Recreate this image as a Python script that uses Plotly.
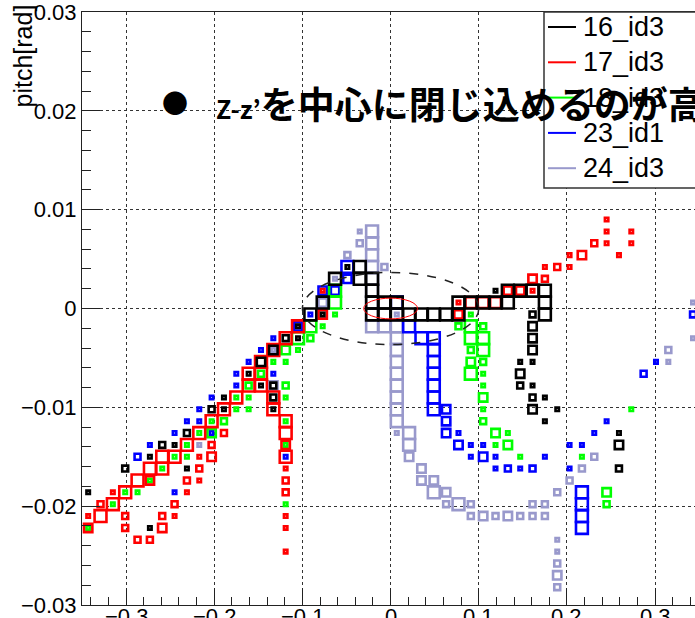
import numpy as np
import plotly.graph_objects as go

# ---------------- data: 2D histogram cells (x bin, y bin, content) ----------------
# binning of the TH2: 50 x 50 bins over [-0.35,0.35] x [-0.03,0.03]
NX, XLO, XHI = 50, -0.35, 0.35
NY, YLO, YHI = 50, -0.03, 0.03

series_names = ["16_id3", "17_id3", "18_id3", "23_id1", "24_id3"]
series_colors = ["#000000", "#ff0000", "#00ff00", "#0000ff", "#9999cc"]

x_tick_vals = [-0.3, -0.2, -0.1, 0.0, 0.1, 0.2, 0.3]
x_tick_text = ["−0.3", "−0.2", "−0.1", "0", "0.1", "0.2", "0.3"]

cells_16 = [
    (0, 9, 1), (3, 11, 3), (5, 6, 1), (5, 12, 1), (6, 13, 3), (7, 13, 1), (8, 11, 1), (8, 14, 3),
    (10, 16, 3), (11, 16, 1), (11, 17, 1),
    (13, 19, 1), (14, 18, 1), (15, 18, 3), (14, 20, 6), (15, 21, 6), (16, 22, 3), (17, 22, 1),
    (17, 23, 1), (15, 17, 3), (15, 16, 1),
    (18, 24, 12), (19, 24, 1), (19, 25, 12), (20, 27, 12), (21, 28, 1), (22, 28, 12), (22, 27, 12),
    (23, 27, 12), (23, 26, 12), (23, 25, 12), (23, 24, 12), (24, 25, 12), (25, 25, 12), (24, 24, 12),
    (25, 24, 12), (26, 24, 12), (27, 24, 12), (28, 24, 12), (29, 24, 12), (30, 24, 12),
    (30, 25, 12), (31, 25, 12), (32, 25, 12), (33, 25, 12), (34, 25, 12), (33, 26, 1), (34, 26, 12),
    (35, 26, 12), (36, 26, 12), (37, 26, 12), (37, 25, 12), (37, 24, 12), (36, 24, 3),
    (36, 23, 6), (36, 22, 6), (36, 21, 6), (35, 20, 1), (36, 20, 1), (35, 19, 6), (35, 18, 3),
    (36, 18, 1), (36, 17, 3), (37, 17, 1), (36, 16, 6), (38, 16, 1), (37, 15, 1),
    (43, 14, 1), (43, 13, 6), (43, 11, 3),
]

cells_17 = [
    (0, 6, 6), (0, 7, 1), (1, 7, 12), (1, 8, 3), (2, 8, 12), (2, 9, 1), (3, 9, 12), (3, 7, 3),
    (3, 6, 3), (4, 10, 12), (4, 5, 3), (5, 5, 3), (5, 10, 6), (5, 11, 12), (6, 11, 12), (6, 12, 12),
    (6, 7, 3), (6, 6, 6), (7, 12, 12), (7, 8, 3), (7, 7, 1), (8, 13, 12), (8, 10, 3), (8, 9, 1),
    (9, 14, 12), (9, 12, 1), (9, 11, 3), (9, 10, 1), (10, 15, 12), (10, 13, 3), (10, 12, 6),
    (11, 16, 12), (11, 14, 3), (12, 17, 12),
    (13, 18, 12), (13, 19, 12), (14, 18, 12), (14, 19, 12), (14, 20, 12), (15, 21, 12), (16, 22, 12),
    (17, 23, 12), (19, 24, 6), (19, 26, 1),
    (15, 17, 12), (15, 16, 12), (16, 15, 12), (16, 14, 12), (16, 13, 6), (16, 12, 12), (16, 11, 1),
    (16, 10, 3), (16, 9, 3), (16, 7, 1), (16, 6, 1), (16, 4, 1),
    (30, 25, 1), (31, 25, 10), (32, 25, 10), (33, 25, 10), (30, 24, 6), (34, 26, 6), (35, 26, 6),
    (36, 26, 1), (36, 27, 6), (37, 27, 3), (37, 28, 1), (38, 28, 3), (39, 28, 1), (39, 29, 1),
    (40, 29, 6), (41, 30, 3), (42, 30, 1), (42, 31, 1), (42, 32, 1), (43, 29, 1), (44, 30, 1),
    (44, 31, 1),
]

cells_18 = [
    (0, 6, 1), (2, 8, 1), (3, 9, 1), (4, 9, 1), (5, 10, 1), (6, 11, 1), (7, 12, 1), (8, 12, 1),
    (8, 13, 1), (9, 14, 1), (10, 14, 6), (10, 15, 1), (11, 15, 3), (12, 16, 1), (12, 17, 1),
    (13, 17, 1), (13, 16, 1), (16, 17, 1), (16, 15, 1), (16, 13, 1), (16, 8, 1), (13, 18, 3),
    (14, 19, 3), (15, 20, 1), (16, 20, 1), (16, 21, 6), (17, 21, 1), (16, 18, 3),
    (17, 22, 12), (18, 22, 3), (18, 23, 12), (19, 23, 1), (20, 24, 1), (20, 25, 12), (20, 26, 12),
    (30, 23, 3), (31, 24, 1), (31, 23, 12), (31, 22, 12), (31, 21, 3), (31, 20, 6), (31, 19, 12),
    (32, 23, 3), (32, 22, 12), (32, 21, 12), (32, 20, 3), (32, 19, 1), (32, 18, 1), (32, 17, 6),
    (32, 16, 1), (32, 15, 3), (33, 14, 6), (34, 14, 1), (33, 13, 1), (34, 13, 6), (35, 12, 1),
    (40, 12, 1), (42, 9, 6), (42, 8, 3), (44, 16, 1),
]

cells_23 = [
    (4, 12, 3), (5, 13, 1), (7, 9, 1), (7, 14, 1), (8, 15, 1), (9, 15, 1), (9, 16, 1), (10, 14, 1),
    (10, 17, 1),
    (12, 18, 1), (12, 19, 1), (13, 20, 1), (14, 21, 1), (15, 19, 1), (15, 22, 1), (16, 12, 1),
    (17, 23, 6), (18, 24, 1), (19, 26, 6), (20, 26, 6), (21, 27, 6), (21, 28, 12),
    (25, 25, 12), (26, 23, 12), (27, 22, 12), (28, 22, 12), (28, 21, 12), (28, 20, 12), (28, 19, 12),
    (28, 18, 12), (28, 17, 12), (28, 16, 12), (29, 16, 6), (29, 15, 6), (29, 14, 6),
    (30, 14, 1), (30, 13, 6), (31, 13, 1), (32, 13, 1), (31, 12, 1), (32, 12, 6), (33, 12, 1),
    (33, 11, 1), (34, 11, 3), (35, 11, 1), (36, 11, 3), (37, 12, 1),
    (39, 13, 1), (40, 13, 1), (39, 11, 1), (41, 14, 1), (42, 15, 1), (40, 9, 12), (40, 8, 12),
    (40, 7, 12), (40, 6, 12), (45, 19, 3), (46, 20, 1), (49, 24, 3),
]

cells_24 = [
    (9, 13, 1), (15, 21, 1), (15, 18, 6), (19, 25, 6), (20, 27, 1), (21, 29, 3), (22, 30, 3),
    (22, 31, 1),
    (23, 31, 12), (23, 30, 12), (23, 29, 12), (23, 28, 12), (23, 27, 12), (23, 26, 12), (23, 25, 12),
    (23, 24, 12), (23, 23, 12), (24, 23, 12), (24, 28, 3), (25, 24, 1),
    (25, 23, 12), (25, 22, 12), (25, 21, 12), (25, 20, 12), (25, 19, 12), (25, 18, 12), (25, 17, 12),
    (25, 16, 12), (25, 15, 12), (25, 14, 1),
    (26, 14, 12), (26, 13, 12), (26, 12, 6), (27, 11, 6), (27, 10, 6), (28, 10, 6), (28, 9, 12),
    (29, 9, 6), (29, 8, 3), (30, 8, 12), (31, 8, 3),
    (31, 7, 3), (32, 7, 6), (33, 7, 3), (34, 7, 6), (35, 7, 3), (36, 7, 3), (37, 7, 3), (36, 8, 3),
    (37, 8, 3), (38, 9, 3), (39, 10, 3), (40, 11, 3), (41, 12, 3),
    (38, 5, 1), (38, 4, 1), (38, 3, 3), (38, 2, 6), (38, 1, 3), (47, 20, 1), (47, 21, 3),
    (49, 22, 1), (49, 25, 1),
]

all_cells = [cells_16, cells_17, cells_18, cells_23, cells_24]

y_title = "pitch[rad]"
overlay_latin = "Z-z’"
overlay_jp = "を中心に閉じ込めるのが高"

# ---------------- layout geometry ----------------
W, H = 695, 618
ML, MR, MT, MB = 82, 0, 12, 13
PW, PH = W - ML - MR, H - MT - MB
PX_PER_X = 881.7
X_RANGE = [XLO, XLO + PW / PX_PER_X]
Y_RANGE = [YLO - 1e-9, YHI + 1e-9]

x_edges = np.linspace(XLO, XHI, NX + 1)
y_edges = np.linspace(YLO, YHI, NY + 1)
x_cent = 0.5 * (x_edges[:-1] + x_edges[1:])
y_cent = 0.5 * (y_edges[:-1] + y_edges[1:])
bin_px = (x_edges[1] - x_edges[0]) * PX_PER_X * 0.96

fig = go.Figure()

# draw order: last legend entry first
for idx in [4, 3, 2, 1, 0]:
    cells = all_cells[idx]
    cmax = 12.0
    xs = [x_cent[c[0]] for c in cells]
    ys = [y_cent[c[1]] for c in cells]
    sz = [bin_px * np.sqrt(c[2] / cmax) for c in cells]
    fig.add_trace(go.Scatter(
        x=xs, y=ys, mode="markers", name=series_names[idx], showlegend=False,
        hoverinfo="skip",
        marker=dict(symbol="square-open", size=sz, color=series_colors[idx], opacity=1,
                    line=dict(width=2.6, color=series_colors[idx])),
    ))

AXFONT = dict(family="Liberation Sans, Arial, sans-serif", size=22, color="black")

fig.update_layout(
    width=W, height=H,
    margin=dict(l=ML, r=MR, t=MT, b=MB, autoexpand=False),
    paper_bgcolor="white", plot_bgcolor="white",
    showlegend=False,
    xaxis=dict(range=X_RANGE, showgrid=True, gridcolor="#333", griddash="dot", gridwidth=1,
               zeroline=False, showline=True, linecolor="#222", linewidth=1, mirror=True,
               ticks="inside", ticklen=17, tickcolor="#222", tickwidth=1,
               tickvals=x_tick_vals, showticklabels=False,
               minor=dict(ticks="inside", ticklen=8, dtick=0.02, tickcolor="#222", showgrid=False)),
    yaxis=dict(range=Y_RANGE, showgrid=True, gridcolor="#333", griddash="dot", gridwidth=1,
               zeroline=False, showline=True, linecolor="#222", linewidth=1, mirror=False,
               ticks="inside", ticklen=18, tickcolor="#222", tickwidth=1,
               dtick=0.01, tick0=0, tickfont=AXFONT, ticklabeloverflow="allow",
               minor=dict(ticks="inside", ticklen=9, dtick=0.002, tickcolor="#222", showgrid=False)),
)

def px2paper_x(px):
    return (px - ML) / PW

def px2paper_y(py):
    return (H - MB - py) / PH

shapes = []
annotations = []

# x tick labels (cut by the bottom edge as in the reference)
for v, t in zip(x_tick_vals, x_tick_text):
    annotations.append(dict(text=t, xref="x", x=v, yref="paper", y=px2paper_y(602),
                            xanchor="center", yanchor="top", showarrow=False, font=AXFONT))

# ellipses (drawn over the boxes)
shapes.append(dict(type="circle", xref="x", yref="y", x0=-0.1, x1=0.1, y0=-0.00365, y1=0.00365,
                   line=dict(color="#222", width=1.5, dash="dash"), layer="above"))
shapes.append(dict(type="circle", xref="x", yref="y", x0=-0.0305, x1=0.0305, y0=-0.00105, y1=0.00105,
                   line=dict(color="#ff0000", width=1), layer="above"))

# legend box
shapes.append(dict(type="rect", xref="paper", yref="paper",
                   x0=px2paper_x(544), x1=px2paper_x(760), y0=px2paper_y(188), y1=px2paper_y(12),
                   line=dict(color="#333", width=1.5), fillcolor="white", layer="above"))
for i, (nm, col) in enumerate(zip(series_names, series_colors)):
    yy = px2paper_y(27 + 35.3 * i)
    shapes.append(dict(type="line", xref="paper", yref="paper",
                       x0=px2paper_x(548), x1=px2paper_x(576), y0=yy, y1=yy,
                       line=dict(color=col, width=2), layer="above"))
    annotations.append(dict(text=nm, xref="paper", yref="paper", x=px2paper_x(581), y=yy,
                            xanchor="left", yanchor="middle", showarrow=False,
                            font=dict(family="Liberation Sans, Arial, sans-serif", size=27, color="black")))

# y axis title
annotations.append(dict(text=y_title, xref="paper", yref="paper", x=px2paper_x(22), y=px2paper_y(3),
                        xanchor="center", yanchor="top", textangle=-90, showarrow=False,
                        font=dict(family="Liberation Sans, Arial, sans-serif", size=25, color="black")))

# overlay slide text
annotations.append(dict(text="●", xref="paper", yref="paper", x=px2paper_x(175), y=px2paper_y(101),
                        xanchor="center", yanchor="middle", showarrow=False,
                        font=dict(family="Noto Sans CJK JP", size=26, color="black")))
annotations.append(dict(
    text="<b><span style='font-size:25px'>" + overlay_latin + "</span>" + overlay_jp + "</b>",
    xref="paper", yref="paper", x=px2paper_x(214), y=px2paper_y(103),
    xanchor="left", yanchor="middle", showarrow=False,
    font=dict(family="Noto Sans CJK JP", size=37, color="black")))

fig.update_layout(shapes=shapes, annotations=annotations)
fig.write_html("out.html")
